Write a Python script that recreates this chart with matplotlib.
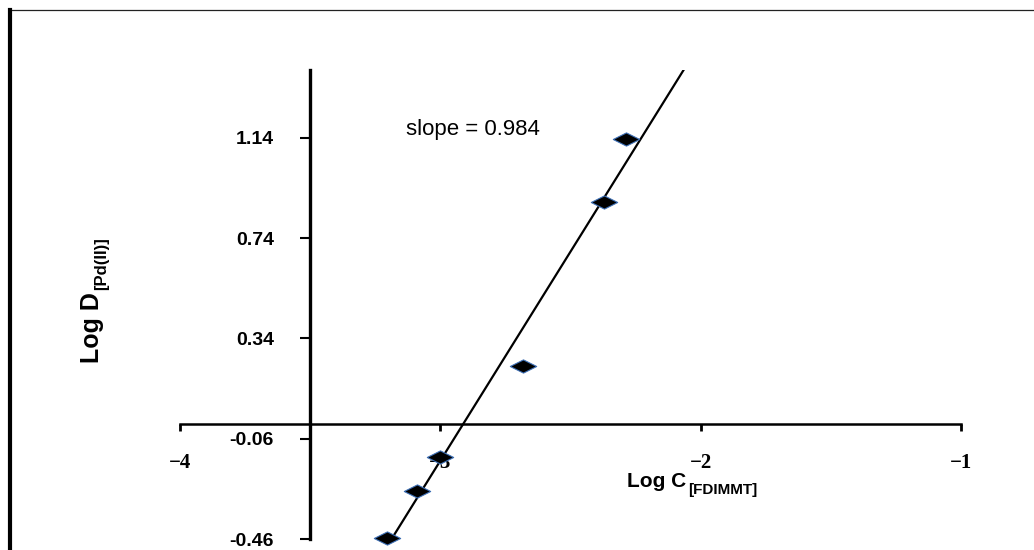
import matplotlib
matplotlib.use('Agg')
import matplotlib.pyplot as plt
import numpy as np
from matplotlib.lines import Line2D
from matplotlib.path import Path

# ---- data ----
log_c = [-3.204, -3.088, -3.000, -2.683, -2.373, -2.285]
log_d = [-0.456, -0.268, -0.132, 0.228, 0.884, 1.136]
y_ticks = [-0.46, -0.06, 0.34, 0.74, 1.14]
y_tick_labels = ['-0.46', '-0.06', '0.34', '0.74', '1.14']
x_ticks = [-4, -3, -2, -1]
x_tick_labels = ['\u22124', '\u22123', '\u22122', '\u22121']
slope_text = 'slope = 0.984'
xlabel_main, xlabel_sub = 'Log C', '[FDIMMT]'
ylabel_main, ylabel_sub = 'Log D', '[Pd(II)]'

SANS = ['Liberation Sans', 'DejaVu Sans']
SERIF = ['Liberation Serif', 'DejaVu Serif']

fig = plt.figure(figsize=(10.34, 5.5), dpi=100)
fig.patch.set_facecolor('white')

# outer frame (top thin, left thick)
fig.add_artist(Line2D([10 / 1034, 1.0], [1 - 10 / 550, 1 - 10 / 550],
                      transform=fig.transFigure, color='#222222', lw=0.9))
fig.add_artist(Line2D([10 / 1034, 10 / 1034], [0.0, 1 - 10 / 550],
                      transform=fig.transFigure, color='black', lw=3.0))

ax = fig.add_axes([180 / 1034, 11 / 550, 781 / 1034, 469 / 550])
ax.set_xlim(-4, -1)
ax.set_ylim(-0.46, 1.41)
ax.patch.set_alpha(0)

for s in ['top', 'right']:
    ax.spines[s].set_visible(False)
ax.spines['left'].set_position(('data', -3.5))
ax.spines['bottom'].set_position(('data', 0))
ax.spines['left'].set_linewidth(2.4)
ax.spines['bottom'].set_linewidth(1.8)

ax.set_yticks(y_ticks)
ax.set_yticklabels(y_tick_labels, fontweight='bold', family=SANS, fontsize=14)
ax.tick_params(axis='y', direction='out', length=7, width=1.5, pad=19)

ax.set_xticks(x_ticks)
ax.set_xticklabels(x_tick_labels, fontweight='bold', family=SERIF, fontsize=15)
ax.tick_params(axis='x', direction='out', length=5, width=2, pad=16)

# fitted trend line
coef = np.polyfit(log_c, log_d, 1)
xl = np.array([min(log_c), -1.9])
ax.plot(xl, np.polyval(coef, xl), color='black', lw=1.6, zorder=4)

# diamond markers (wide, flat)
diamond = Path([(-1, 0), (0, 0.5), (1, 0), (0, -0.5), (-1, 0)],
               [Path.MOVETO, Path.LINETO, Path.LINETO, Path.LINETO, Path.CLOSEPOLY])
ax.plot(log_c, log_d, linestyle='none', marker=diamond, markersize=19,
        markerfacecolor='black', markeredgecolor='#3b6db3', markeredgewidth=0.8,
        zorder=6, clip_on=False)

# slope annotation
fig.text(473 / 1034, 1 - 130 / 550, slope_text, ha='center', va='center',
         family=SANS, fontsize=16)

# x label with subscript
xa = (686 / 1034, 1 - 487 / 550)
fig.text(xa[0], xa[1], xlabel_main, ha='right', va='baseline',
         family=SANS, fontweight='bold', fontsize=15)
ax.annotate(xlabel_sub, xy=xa, xycoords='figure fraction', xytext=(1.5, -5),
            textcoords='offset points', ha='left', va='baseline',
            family=SANS, fontweight='bold', fontsize=11, annotation_clip=False)

# y label with subscript (rotated)
ya = (99 / 1034, 1 - 292 / 550)
fig.text(ya[0], ya[1], ylabel_main, rotation=90, rotation_mode='anchor',
         ha='right', va='baseline', family=SANS, fontweight='bold', fontsize=18)
ax.annotate(ylabel_sub, xy=ya, xycoords='figure fraction', xytext=(5, 1.5),
            textcoords='offset points', ha='left', va='baseline', rotation=90,
            rotation_mode='anchor', family=SANS, fontweight='bold', fontsize=12,
            annotation_clip=False)

fig.savefig('out.png', dpi=100)
